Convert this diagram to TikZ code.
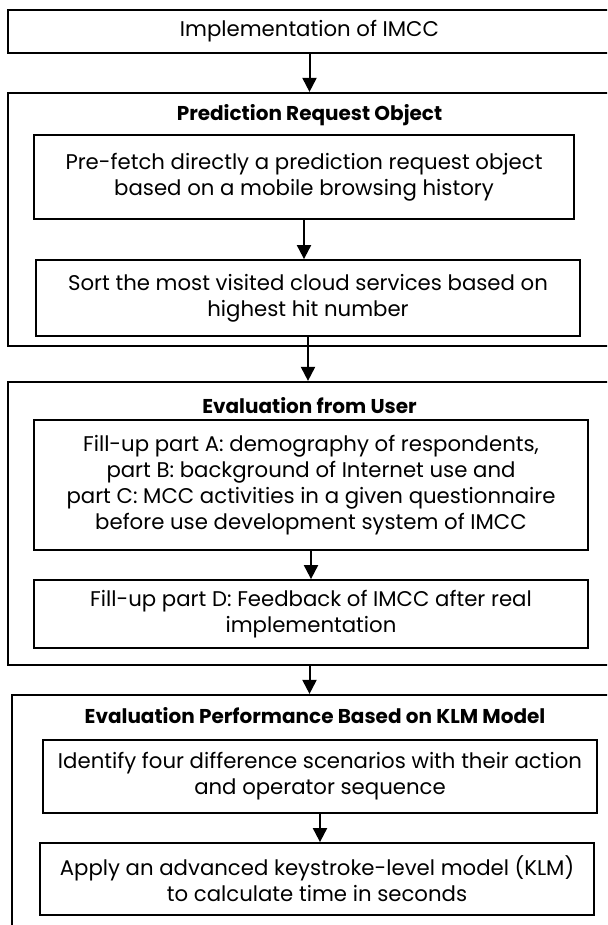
\documentclass[tikz,border=0pt]{standalone}
\usepackage{fontspec}
\setmainfont{Poppins}
\usetikzlibrary{arrows.meta}

\begin{document}
\begin{tikzpicture}[x=1pt,y=-1pt,
        every node/.style={font=\fontsize{21.25}{25.8}\selectfont},
        outerbox/.style={draw, line width=2.2pt, minimum width=603pt, inner sep=0pt},
        innerbox/.style={draw, line width=1.8pt, align=center, inner sep=0pt},
        boxtitle/.style={font=\fontsize{20}{24}\selectfont\bfseries},
        flowarrow/.style={line width=2pt, -{Triangle[width=14pt,length=14pt]}}]
    \clip (0,0) rectangle (607,925);
    % outer frames
    \node[outerbox, minimum height=43pt] (impl) at (309.5,31.5) {Implementation of IMCC};
    \node[outerbox, minimum height=253pt] (pro) at (309.5,219.5) {};
    \node[outerbox, minimum height=283pt] (evaluser) at (309.5,523.5) {};
    \node[outerbox, minimum height=260pt] (klmeval) at (313.5,825) {};
    % titles
    \node[boxtitle] (protitle) at (309.5,115) {Prediction Request Object};
    \node[boxtitle] (evalusertitle) at (309.5,406) {Evaluation from User};
    \node[boxtitle] (klmtitle) at (315,716) {Evaluation Performance Based on KLM Model};
    % inner steps
    \node[innerbox, minimum width=540pt, minimum height=84pt] (prefetch) at (304,177)
        {Pre-fetch directly a prediction request object\\based on a mobile browsing history};
    \node[innerbox, minimum width=544pt, minimum height=76pt] (sortsvc) at (308,298)
        {Sort the most visited cloud services based on\\highest hit number};
    \node[innerbox, minimum width=554pt, minimum height=130pt] (fillabc) at (311,485)
        {Fill-up part A: demography of respondents,\\part B: background of Internet use and\\part C: MCC activities in a given questionnaire\\before use development system of IMCC};
    \node[innerbox, minimum width=554pt, minimum height=68pt] (filld) at (311,614)
        {Fill-up part D: Feedback of IMCC after real\\implementation};
    \node[innerbox, minimum width=554pt, minimum height=73pt] (identify) at (320,776.5)
        {Identify four difference scenarios with their action\\and operator sequence};
    \node[innerbox, minimum width=554pt, minimum height=72pt] (applyklm) at (317,879)
        {Apply an advanced keystroke-level model (KLM)\\to calculate time in seconds};
    % arrows
    \draw[flowarrow] (impl.south) -- (pro.north);
    \draw[flowarrow] (prefetch.south) -- (prefetch.south |- sortsvc.north);
    \draw[flowarrow] (sortsvc.south) -- (sortsvc.south |- evaluser.north);
    \draw[flowarrow] (fillabc.south) -- (filld.north);
    \draw[flowarrow] (evaluser.south) -- (evaluser.south |- klmeval.north);
    \draw[flowarrow] (identify.south) -- (identify.south |- applyklm.north);
\end{tikzpicture}
\end{document}
